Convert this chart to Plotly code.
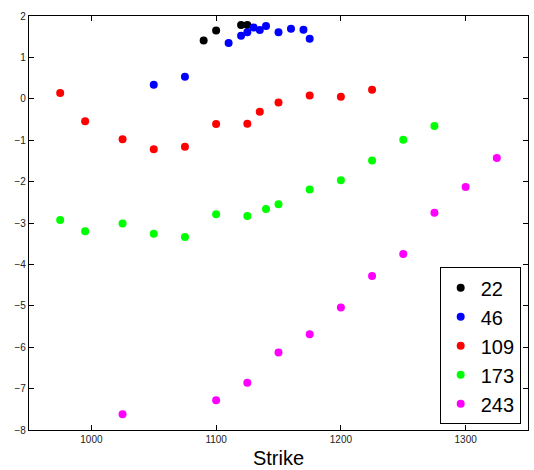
import plotly.graph_objects as go

# Implied-volatility style points by strike, one series per maturity (days)
strike_22 = [1090, 1100, 1120, 1125]
value_22 = [1.41, 1.65, 1.78, 1.78]

strike_46 = [1050, 1075, 1110, 1120, 1125, 1130, 1135, 1140, 1150, 1160, 1170, 1175]
value_46 = [0.34, 0.53, 1.35, 1.52, 1.61, 1.72, 1.66, 1.76, 1.61, 1.69, 1.67, 1.45]

strike_109 = [975, 995, 1025, 1050, 1075, 1100, 1125, 1135, 1150, 1175, 1200, 1225]
value_109 = [0.14, -0.54, -0.98, -1.22, -1.16, -0.61, -0.60, -0.31, -0.09, 0.08, 0.05, 0.22]

strike_173 = [975, 995, 1025, 1050, 1075, 1100, 1125, 1140, 1150, 1175, 1200, 1225, 1250, 1275]
value_173 = [-2.93, -3.20, -3.01, -3.26, -3.34, -2.79, -2.83, -2.66, -2.55, -2.19, -1.97, -1.49, -0.99, -0.66]

strike_243 = [1025, 1100, 1125, 1150, 1175, 1200, 1225, 1250, 1275, 1300, 1325]
value_243 = [-7.62, -7.28, -6.86, -6.13, -5.69, -5.04, -4.28, -3.75, -2.75, -2.13, -1.43]

series = [
    ("22", strike_22, value_22, "#000000"),
    ("46", strike_46, value_46, "#0000ff"),
    ("109", strike_109, value_109, "#ff0000"),
    ("173", strike_173, value_173, "#00ff00"),
    ("243", strike_243, value_243, "#ff00ff"),
]

fig = go.Figure()
for name, xs, ys, color in series:
    fig.add_trace(go.Scatter(
        x=xs, y=ys, name=name, mode="markers",
        marker=dict(color=color, size=8, line=dict(width=0)),
    ))

axis_common = dict(
    showgrid=False, zeroline=False,
    showline=True, linecolor="#000000", linewidth=1.2, mirror="ticks",
    ticks="inside", ticklen=5, tickwidth=1, tickcolor="#000000",
    tickfont=dict(family="Liberation Sans, Arial, sans-serif", size=10, color="#222222"),
)

fig.update_xaxes(
    range=[950, 1350], tickvals=[1000, 1100, 1200, 1300],
    title=dict(text="Strike", font=dict(family="Liberation Sans, Arial, sans-serif", size=20, color="#000000"), standoff=6),
    **axis_common,
)
fig.update_yaxes(
    range=[-8, 2], tickvals=list(range(-8, 3)),
    **axis_common,
)

fig.update_layout(
    width=534, height=470,
    margin=dict(l=29, r=6, t=16, b=40),
    plot_bgcolor="#ffffff", paper_bgcolor="#ffffff",
    showlegend=True,
    legend=dict(
        x=0.823, y=0.014, xanchor="left", yanchor="bottom",
        bgcolor="#ffffff", bordercolor="#000000", borderwidth=1,
        font=dict(family="Liberation Sans, Arial, sans-serif", size=20, color="#000000"),
        itemwidth=30, tracegroupgap=0,
    ),
)

fig.write_html("out.html")
